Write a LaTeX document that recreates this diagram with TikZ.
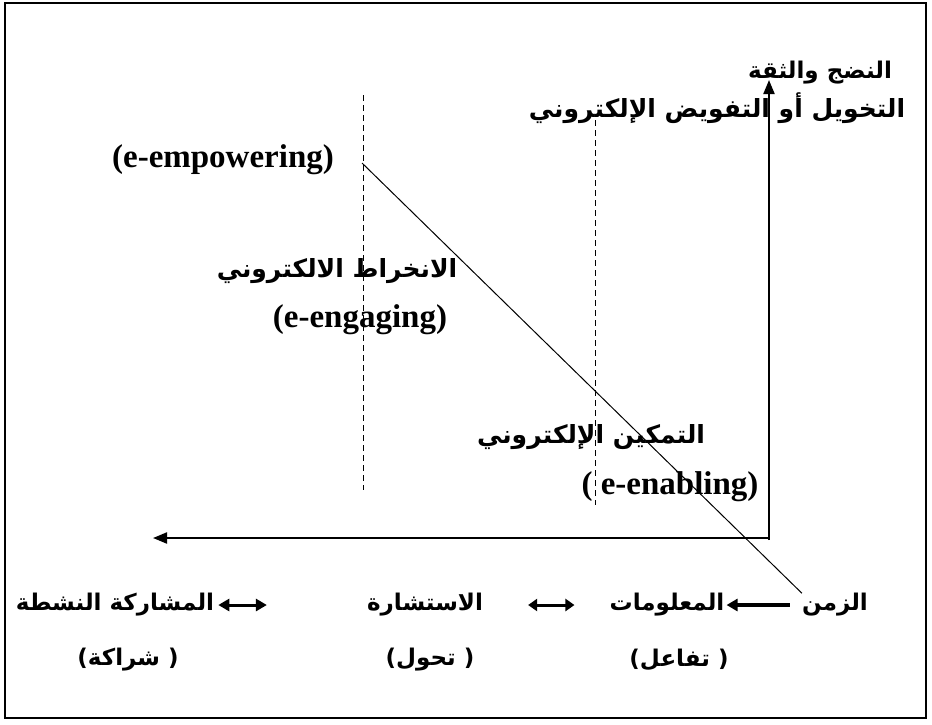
\documentclass[tikz,border=0pt]{standalone}
\usepackage{fontspec}
\setmainfont{Liberation Serif}
\newfontfamily\arabicfont[Script=Arabic]{DejaVu Sans}
\TeXXeTstate=1
\usetikzlibrary{arrows.meta}

\tikzset{
  artext/.style={font=\arabicfont\bfseries\fontsize{23}{27}\selectfont, inner sep=0pt},
  arbig/.style={font=\arabicfont\bfseries\fontsize{25}{29}\selectfont, inner sep=0pt},
  entext/.style={font=\bfseries\fontsize{33}{37}\selectfont, inner sep=0pt},
  stageline/.style={line width=0.9pt, dash pattern=on 6pt off 4pt},
  axis/.style={line width=2pt, -{Triangle[length=14pt,width=11pt]}},
  link/.style={line width=3.5pt, -{Triangle[length=11pt,width=12pt]}}
}

\begin{document}
\begin{tikzpicture}[x=1pt,y=-1pt]
  \useasboundingbox (0,0) rectangle (932,724);
  % frame
  \draw[line width=2.5pt] (5,3) rectangle (926,718);

  % stage boundaries
  \coordinate (s1top) at (363,95);
  \coordinate (s1bot) at (363,490);
  \coordinate (s2top) at (595,120);
  \coordinate (s2bot) at (595,505);
  \draw[stageline] (s1top) -- (s1bot);
  \draw[stageline] (s2top) -- (s2bot);

  % axes
  \coordinate (origin) at (769,540);
  \coordinate (ytip) at (769,80);
  \coordinate (xtip) at (153,538);
  \draw[axis] (origin) -- (ytip);
  \draw[axis] (origin |- xtip) -- (xtip);

  % labels at the top
  \node[artext] (mature) at (820,73) {\beginR النضج والثقة\endR};
  \node[arbig] (empowerar) at (717,108) {\beginR التخويل أو التفويض الإلكتروني\endR};
  \node[entext] (empoweren) at (223,160) {(e-empowering)};

  % middle stage
  \node[arbig] (engagear) at (337,271) {\beginR الانخراط الالكتروني\endR};
  \node[entext] (engageen) at (360,320) {(e-engaging)};

  % first stage
  \node[arbig] (enablear) at (591,437) {\beginR التمكين الإلكتروني\endR};
  \node[entext] (enableen) at (670,487) {( e-enabling)};

  % bottom row
  \node[artext] (zaman) at (835,605) {\beginR الزمن\endR};
  \node[artext] (info) at (667,605) {\beginR المعلومات\endR};
  \node[artext] (consult) at (425,605) {\beginR الاستشارة\endR};
  \node[artext] (partner) at (115,605) {\beginR المشاركة النشطة\endR};
  \node[artext] (interact) at (679,660) {\beginR ( تفاعل)\endR};
  \node[artext] (transform) at (430,660) {\beginR ( تحول)\endR};
  \node[artext] (partnership) at (128,660) {\beginR ( شراكة)\endR};

  \draw[link, shorten <=12pt, shorten >=2pt] (zaman.west) -- (info.east);
  \draw[line width=3pt, {Triangle[length=9pt,width=12pt]}-{Triangle[length=9pt,width=12pt]},
    shorten <=45pt, shorten >=35pt] (consult.east) -- (info.west);
  \draw[line width=3pt, {Triangle[length=11pt,width=12pt]}-{Triangle[length=11pt,width=12pt]},
    shorten <=4pt, shorten >=100pt] (partner.east) -- (consult.west);

  % diagonal
  \coordinate (diagtop) at (362,163);
  \draw[line width=1pt] (diagtop) -- (zaman.north west);
\end{tikzpicture}
\end{document}
